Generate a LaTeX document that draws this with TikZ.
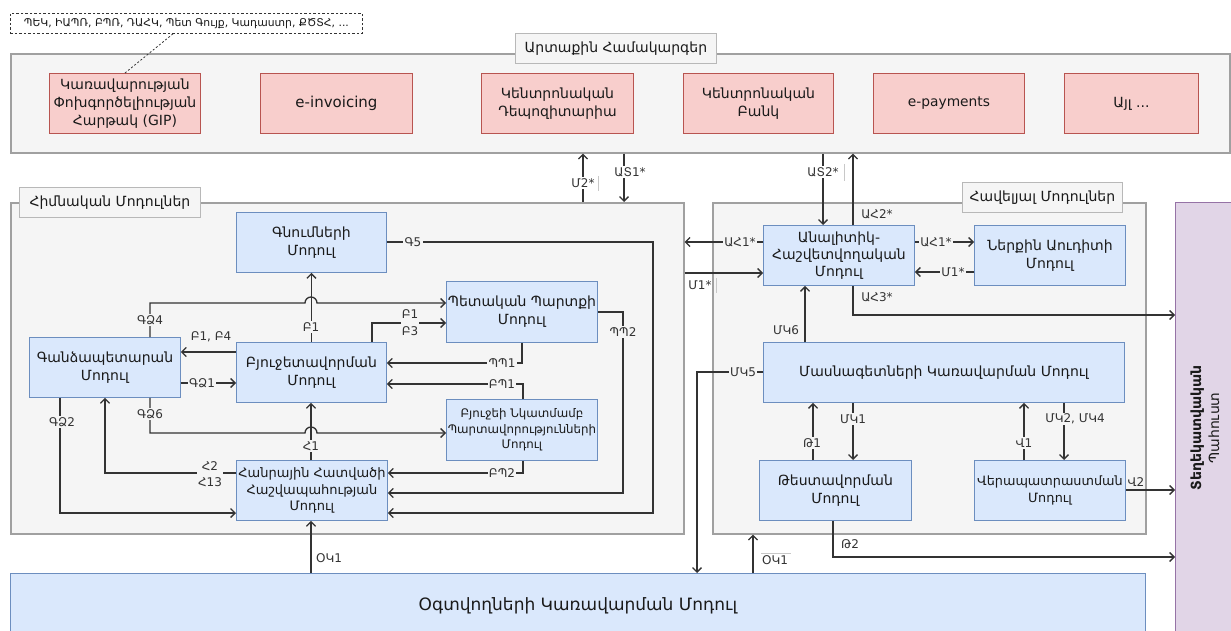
\documentclass[tikz,border=0pt]{standalone}
\usepackage{fontspec}
\setmainfont{DejaVu Sans}
\usetikzlibrary{arrows.meta}
\definecolor{linec}{HTML}{333333}
\definecolor{txtc}{HTML}{1A1A1A}
\definecolor{contfill}{HTML}{F5F5F5}
\definecolor{contdraw}{HTML}{A0A0A0}
\definecolor{ttldraw}{HTML}{B8B8B8}
\definecolor{redfill}{HTML}{F8CECC}
\definecolor{reddraw}{HTML}{B85450}
\definecolor{bluefill}{HTML}{DAE8FC}
\definecolor{bluedraw}{HTML}{6C8EBF}
\definecolor{purfill}{HTML}{E1D5E7}
\definecolor{purdraw}{HTML}{9673A6}
\definecolor{barc}{HTML}{C8C8C8}
\begin{document}
\begin{tikzpicture}[x=1pt,y=-1pt,
  rect/.style n args={4}{anchor=north west, at={(#1,#2)},
    minimum width={(#3-#1)*1pt}, minimum height={(#4-#2)*1pt}, inner sep=0pt},
  cont/.style={draw=contdraw, fill=contfill, line width=1.6pt},
  ttl/.style={draw=ttldraw, fill=contfill, line width=0.9pt, text=txtc,
    font=\fontsize{14}{16}\selectfont},
  modfont/.style={font=\fontsize{14}{18}\selectfont},
  rbox/.style={draw=reddraw, fill=redfill, line width=0.9pt, align=center, text=txtc, modfont},
  bbox/.style={draw=bluedraw, fill=bluefill, line width=0.9pt, align=center, text=txtc, modfont},
  wire/.style={draw=linec, line width=1.3pt},
  arr/.style={wire, -{Straight Barb[length=4.5pt,width=9pt]}},
  lbl/.style={font=\fontsize{12}{14}\selectfont, text=linec, inner sep=1.2pt,
    fill=contfill, align=center},
  wlbl/.style={lbl, fill=white},
  nlbl/.style={lbl, fill=none},
  bar/.style={draw=barc, line width=0.6pt}
]
\useasboundingbox (0,0) rectangle (1231,631);

% ---------- containers ----------
\node[cont, rect={10}{53}{1229}{152}] (ext) {};
\node[cont, rect={10}{202}{683}{533}] (basic) {};
\node[cont, rect={712}{202}{1145}{533}] (aux) {};
\node[draw=purdraw, fill=purfill, line width=0.9pt, rect={1175}{202}{1240}{650}] (store) {};
\node[rotate=90, align=center, text=txtc, font=\fontsize{14}{18}\selectfont] (storetxt)
  at (1205,428) {\textbf{Տեղեկատվական}\\Պահուստ};
\node[draw=bluedraw, fill=bluefill, line width=0.9pt, rect={10}{573}{1145}{637},
  text=txtc, font=\fontsize{17}{20}\selectfont] (users) {Օգտվողների Կառավարման Մոդուլ};

% ---------- titles ----------
\node[ttl, rect={515}{33}{716}{63}] (extT) {Արտաքին Համակարգեր};
\node[ttl, rect={19}{187}{200}{217}] (basicT) {Հիմնական Մոդուլներ};
\node[ttl, rect={962}{182}{1122}{212}] (auxT) {Հավելյալ Մոդուլներ};
\node[draw=linec, dashed, dash pattern=on 2.5pt off 2pt, line width=0.8pt, fill=white,
  rect={10}{13}{362}{33}, text=txtc, font=\fontsize{10.8}{12}\selectfont] (note)
  {ՊԵԿ, ԻԱՊՌ, ԲՊՌ, ԴԱՀԿ, Պետ Գույք, Կադաստր, ՔԾՏՀ, ...};

% ---------- external systems ----------
\node[rbox, rect={49}{73}{200}{133}] (gip) {Կառավարության\\Փոխգործելիության\\Հարթակ (GIP)};
\node[rbox, rect={260}{73}{412}{133}, font=\fontsize{15}{18}\selectfont] (einv) {e-invoicing};
\node[rbox, rect={481}{73}{633}{133}] (csd) {Կենտրոնական\\Դեպոզիտարիա};
\node[rbox, rect={683}{73}{833}{133}] (cba) {Կենտրոնական\\Բանկ};
\node[rbox, rect={873}{73}{1024}{133}, font=\fontsize{13.8}{17}\selectfont] (epay) {e-payments};
\node[rbox, rect={1064}{73}{1198}{133}, font=\fontsize{14}{17}\selectfont] (other) {Այլ ...};

% ---------- basic modules ----------
\node[bbox, rect={236}{212}{386}{272}] (purch) {Գնումների\\Մոդուլ};
\node[bbox, rect={29}{337}{180}{397}] (treas) {Գանձապետարան\\Մոդուլ};
\node[bbox, rect={236}{342}{386}{402}] (budget) {Բյուջետավորման\\Մոդուլ};
\node[bbox, rect={446}{281}{597}{342}] (debt) {Պետական Պարտքի\\Մոդուլ};
\node[bbox, rect={446}{399}{597}{460}, font=\fontsize{11.8}{15.5}\selectfont] (oblig)
  {Բյուջեի Նկատմամբ\\Պարտավորությունների\\Մոդուլ};
\node[bbox, rect={236}{460}{387}{520}, font=\fontsize{13}{16.5}\selectfont] (hhh)
  {Հանրային Հատվածի\\Հաշվապահության\\Մոդուլ};

% ---------- additional modules ----------
\node[bbox, rect={763}{225}{914}{285}, font=\fontsize{14}{17}\selectfont] (anal)
  {Անալիտիկ-\\Հաշվետվողական\\Մոդուլ};
\node[bbox, rect={974}{225}{1125}{285}] (audit) {Ներքին Աուդիտի\\Մոդուլ};
\node[bbox, rect={763}{342}{1124}{402}] (spec) {Մասնագետների Կառավարման Մոդուլ};
\node[bbox, rect={759}{460}{911}{520}] (test) {Թեստավորման\\Մոդուլ};
\node[bbox, rect={974}{460}{1125}{520}, font=\fontsize{12.8}{17}\selectfont] (retr)
  {Վերապատրաստման\\Մոդուլ};

% ---------- connectors: top ----------
\draw[draw=linec, line width=0.8pt, dash pattern=on 2pt off 2pt]
  (note.south -| 173,0) -- (gip.north -| 125,0);
\draw[arr] (basic.north -| 583,0) -- (ext.south -| 583,0);
\draw[arr] (ext.south -| 624,0) -- (basic.north -| 624,0);
\draw[arr] (ext.south -| 823,0) -- (anal.north -| 823,0);
\draw[arr] (anal.north -| 853,0) -- (ext.south -| 853,0);
\draw[arr] (anal.west |- 0,242) -- (basic.east |- 0,242);
\draw[arr] (basic.east |- 0,273) -- (anal.west |- 0,273);
\draw[arr] (anal.east |- 0,242) -- (audit.west |- 0,242);
\draw[arr] (audit.west |- 0,272) -- (anal.east |- 0,272);
\draw[arr] (anal.south -| 853,0) -- (853,315) -- (store.west |- 0,315);
\draw[arr] (spec.north -| 805,0) -- (anal.south -| 805,0);
\draw[arr] (spec.west |- 0,372) -- (697,372) -- (users.north -| 697,0);
\draw[arr] (users.north -| 753,0) -- (aux.south -| 753,0);
\draw[arr] (users.north -| 311,0) -- (hhh.south -| 311,0);

% ---------- connectors: additional modules ----------
\draw[arr] (test.north -| 813,0) -- (spec.south -| 813,0);
\draw[arr] (spec.south -| 853,0) -- (test.north -| 853,0);
\draw[arr] (test.south -| 833,0) -- (833,557) -- (store.west |- 0,557);
\draw[arr] (retr.north -| 1024,0) -- (spec.south -| 1024,0);
\draw[arr] (spec.south -| 1064,0) -- (retr.north -| 1064,0);
\draw[arr] (retr.east |- 0,490) -- (store.west |- 0,490);

% ---------- connectors: basic modules ----------
\draw[arr] (purch.east |- 0,242) -- (653,242) -- (653,513) -- (hhh.east |- 0,513);
\draw[arr] (debt.east |- 0,312) -- (623,312) -- (623,493) -- (hhh.east |- 0,493);
\draw[arr] (oblig.south -| 523,0) -- (523,473) -- (hhh.east |- 0,473);
\draw[arr] (oblig.north -| 523,0) -- (523,384) -- (budget.east |- 0,384);
\draw[arr] (debt.south -| 522,0) -- (522,363) -- (budget.east |- 0,363);
\draw[arr] (budget.north -| 372,0) -- (372,323) -- (debt.west |- 0,323);
\draw[arr] (treas.north -| 150,0) -- (150,303) -- (305,303)
  arc[start angle=180, end angle=360, radius=6] -- (debt.west |- 0,303);
\draw[arr] (budget.north) -- (purch.south);
\draw[arr] (budget.west |- 0,352) -- (treas.east |- 0,352);
\draw[arr] (treas.east |- 0,383) -- (budget.west |- 0,383);
\draw[arr] (treas.south -| 150,0) -- (150,433) -- (305,433)
  arc[start angle=180, end angle=360, radius=6] -- (oblig.west |- 0,433);
\draw[arr] (hhh.north -| 311,0) -- (budget.south -| 311,0);
\draw[arr] (hhh.west |- 0,473) -- (105,473) -- (treas.south -| 105,0);
\draw[arr] (treas.south -| 60,0) -- (60,513) -- (hhh.west |- 0,513);

% ---------- connector labels ----------
\node[wlbl] (lM2) at (583,183) {Մ2*};
\node[wlbl] (lAT1) at (630,172) {ԱՏ1*};
\node[wlbl] (lAT2) at (823,172) {ԱՏ2*};
\node[nlbl] (lAH2) at (877,214) {ԱՀ2*};
\node[lbl] (lAH1a) at (740,242) {ԱՀ1*};
\node[nlbl] (lM1a) at (700,285) {Մ1*};
\node[lbl] (lAH1b) at (936,242) {ԱՀ1*};
\node[lbl] (lM1b) at (953,272) {Մ1*};
\node[nlbl] (lAH3) at (877,297) {ԱՀ3*};
\node[nlbl] (lMK6) at (786,330) {ՄԿ6};
\node[lbl] (lMK5) at (743,372) {ՄԿ5};
\node[nlbl] (lOK1b) at (775,560) {ՕԿ1};
\node[nlbl] (lOK1a) at (329,558) {ՕԿ1};
\node[lbl] (lT1) at (812,443) {Թ1};
\node[lbl] (lMK1) at (853,419) {ՄԿ1};
\node[nlbl] (lT2) at (850,544) {Թ2};
\node[lbl] (lV1) at (1024,443) {Վ1};
\node[lbl] (lMK24) at (1075,419) {ՄԿ2, ՄԿ4};
\node[nlbl] (lV2) at (1136,482) {Վ2};
\node[lbl] (lG5) at (413,242) {Գ5};
\node[lbl] (lPP2) at (623,332) {ՊՊ2};
\node[lbl] (lBP2) at (502,473) {ԲՊ2};
\node[lbl] (lBP1) at (502,384) {ԲՊ1};
\node[lbl] (lPP1) at (502,363) {ՊՊ1};
\node[lbl, inner ysep=0pt, font=\fontsize{12}{17}\selectfont] (lB13) at (410,323) {Բ1\\Բ3};
\node[lbl] (lGD4) at (150,320) {ԳՁ4};
\node[lbl] (lB1) at (311,327) {Բ1};
\node[nlbl] (lB14) at (211,337) {Բ1, Բ4};
\node[lbl] (lGD1) at (202,383) {ԳՁ1};
\node[lbl] (lGD6) at (150,414) {ԳՁ6};
\node[lbl] (lH1) at (311,446) {Հ1};
\node[lbl, inner ysep=0pt, font=\fontsize{12}{16}\selectfont] (lH213) at (210,474) {Հ2\\Հ13};
\node[lbl] (lGD2) at (62,422) {ԳՁ2};

% faint label-box edges
\draw[bar] (598,176) -- (598,191);
\draw[bar] (844,164) -- (844,181);
\draw[bar] (716,278) -- (716,293);
\draw[bar] (761,553) -- (791,553);
\end{tikzpicture}
\end{document}
